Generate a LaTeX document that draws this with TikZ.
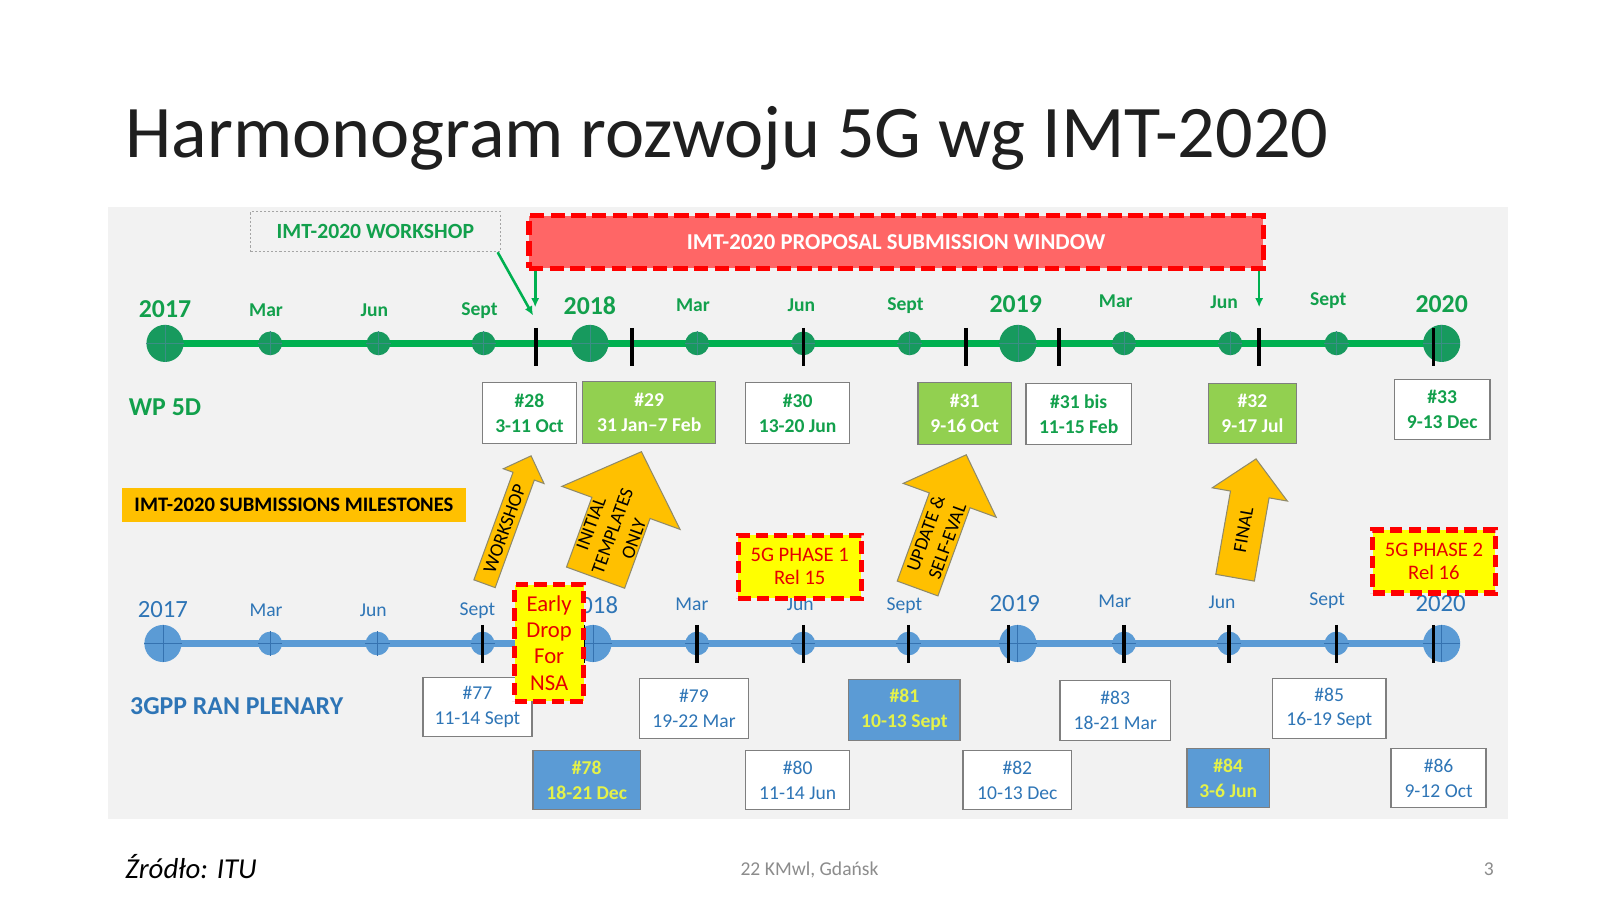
\documentclass[tikz,border=0pt]{standalone}
\usepackage{fontspec}
\setmainfont{Carlito}
\usetikzlibrary{arrows.meta}

\definecolor{titleblack}{HTML}{1F1F1F}
\definecolor{panelgrey}{HTML}{F2F2F2}
\definecolor{wpgreen}{HTML}{12A04C}
\definecolor{wpline}{HTML}{00B050}
\definecolor{wpdotfill}{HTML}{179A5E}
\definecolor{wpcross}{HTML}{3B8E86}
\definecolor{boxgreen}{HTML}{92D050}
\definecolor{rantext}{HTML}{2E75B6}
\definecolor{ranline}{HTML}{5B9BD5}
\definecolor{rancross}{HTML}{3572B0}
\definecolor{boxblue}{HTML}{5B9BD5}
\definecolor{yellowtext}{HTML}{E4F24A}
\definecolor{boxgrey}{HTML}{7F7F7F}
\definecolor{milestone}{HTML}{FFC000}
\definecolor{arrowedge}{HTML}{8F8A6A}
\definecolor{windowred}{HTML}{FF6666}
\definecolor{dashred}{HTML}{FF0000}
\definecolor{phaseyellow}{HTML}{FFFF00}
\definecolor{phasetext}{HTML}{E60000}
\definecolor{footgrey}{HTML}{8C8C8C}

\tikzset{
  wpaxis/.style={draw=wpline, line width=7pt},
  ranaxis/.style={draw=ranline, line width=6pt},
  wpdot/.style={circle, fill=wpdotfill, inner sep=0pt},
  randot/.style={circle, fill=ranline, inner sep=0pt},
  dotcross/.style={draw=wpcross, line width=0.6pt},
  randotcross/.style={draw=rancross, line width=0.8pt},
  meetingtick/.style={draw=black, line width=3.5pt},
  wpyear/.style={text=wpgreen, font=\fontsize{25}{30}\selectfont\bfseries, inner sep=0pt, text height=16pt, text depth=0pt},
  wpmonth/.style={text=wpgreen, font=\fontsize{19}{23}\selectfont\bfseries, inner sep=0pt, text height=12pt, text depth=0pt},
  ranyear/.style={text=rantext, font=\fontsize{24}{29}\selectfont, inner sep=0pt, text height=15pt, text depth=0pt},
  ranmonth/.style={text=rantext, font=\fontsize{19}{23}\selectfont, inner sep=0pt, text height=12pt, text depth=0pt},
  datebox/.style={draw=boxgrey, line width=1.4pt, fill=white, align=center, inner sep=0pt},
  wpbox/.style={datebox, text=wpgreen, font=\fontsize{19}{24}\selectfont\bfseries},
  wpmeet/.style={wpbox, fill=boxgreen, text=white},
  ranbox/.style={datebox, text=rantext, font=\fontsize{19}{24}\selectfont},
  ranmeet/.style={ranbox, fill=boxblue, text=yellowtext, font=\fontsize{19}{24}\selectfont\bfseries},
  phasebox/.style={fill=phaseyellow, draw=dashred, line width=5pt, dash pattern=on 12pt off 6pt,
    text=phasetext, align=center, inner sep=0pt, font=\fontsize{20}{22}\selectfont},
  greenarrow/.style={draw=wpline, line width=2.5pt, -{Latex[length=9pt,width=8pt]}},
  subarrowshape/.style={fill=milestone, draw=arrowedge, line width=1pt},
  subarrowtext/.style={align=center, font=\fontsize{18.5}{22}\selectfont, inner sep=0pt},
}

% block arrow: name, tip, angle, length, shaft half width, head half width, head length, text offset, text
\newcommand{\subarrow}[9]{%
  \begin{scope}[shift={#2}, rotate=#3]
    \draw[subarrowshape] (0,0) -- (-#7,-#6) -- (-#7,-#5) -- (-#4,-#5)
      -- (-#4,#5) -- (-#7,#5) -- (-#7,#6) -- cycle;
    \node[subarrowtext, rotate=#3] (#1) at (-#8,0) {#9};
  \end{scope}}

\begin{document}
\begin{tikzpicture}[x=1pt, y=-1pt]
  \fill[white] (0,0) rectangle (1569,879);
  \useasboundingbox (0,0) rectangle (1569,879);
  \fill[panelgrey] (105,201) rectangle (1462,794);

  \node[anchor=base west, text=titleblack, font=\fontsize{72}{86}\selectfont] (title) at (118,153)
    {Harmonogram rozwoju 5G wg IMT-2020};

  % WP 5D line
  \draw[wpaxis] (160,333) -- (1398,333);
  \foreach \x/\r [count=\i] in {160/18,262/11.5,367/11.5,469/11.5,572/18,676/11.5,779/11.5,
      882/11.5,987/18,1090/11.5,1193/11.5,1296/11.5,1398/18}
  {
    \node[wpdot, minimum size=2*\r] (wd\i) at (\x,333) {};
    \draw[dotcross] (wd\i.west) -- (wd\i.east) (wd\i.north) -- (wd\i.south);
  }
  \foreach \x in {520,613,779,937,1027,1221,1390}
    \draw[meetingtick] (\x,318) -- (\x,355);
  \foreach \t/\x/\y [count=\i] in {2017/160/300,2018/572/297,2019/985/295,2020/1398/295}
    \node[wpyear] (wy\i) at (\x,\y) {\t};
  \foreach \t/\x/\y [count=\i] in {Mar/258/301,Jun/363/301,Sept/465/300,Mar/672/296,Jun/777/296,
      Sept/878/295,Mar/1082/292,Jun/1187/293,Sept/1288/290}
    \node[wpmonth] (wm\i) at (\x,\y) {\t};

  \node[text=wpgreen, font=\fontsize{25}{30}\selectfont\bfseries] (wp) at (160,395) {WP 5D};

  \node[wpbox, minimum width=91, minimum height=59] (b28) at (513.5,400.5) {\#28\\3-11 Oct};
  \node[wpmeet, minimum width=129, minimum height=60] (b29) at (629.5,400) {\#29\\31 Jan--7 Feb};
  \node[wpbox, minimum width=101, minimum height=59] (b30) at (773.5,400.5) {\#30\\13-20 Jun};
  \node[wpmeet, minimum width=91, minimum height=60] (b31) at (935.5,401) {\#31\\9-16 Oct};
  \node[wpbox, minimum width=102, minimum height=59] (b31bis) at (1046,401.5) {\#31 bis\\11-15 Feb};
  \node[wpmeet, minimum width=85, minimum height=58] (b32) at (1214.5,401) {\#32\\9-17 Jul};
  \node[wpbox, minimum width=93, minimum height=58] (b33) at (1398.5,397) {\#33\\9-13 Dec};

  % workshop and submission window
  \node[draw=boxgrey!70, line width=1.2pt, dash pattern=on 2pt off 2pt, fill=panelgrey,
    minimum width=242, minimum height=39, text=wpgreen, font=\fontsize{21}{25}\selectfont\bfseries]
    (workshop) at (364,224.5) {IMT-2020 WORKSHOP};
  \node[fill=windowred, draw=dashred, line width=5pt, dash pattern=on 14pt off 6pt,
    minimum width=712, minimum height=51, text=white, font=\fontsize{22}{26}\selectfont\bfseries]
    (window) at (869,234.5) {IMT-2020 PROPOSAL SUBMISSION WINDOW};
  \coordinate (ws-end) at (517,306);
  \coordinate (win-start) at (519,298);
  \coordinate (win-end) at (1221,298);
  \draw[greenarrow] ([xshift=-3pt]workshop.south east) -- (ws-end);
  \draw[greenarrow] (window.south -| win-start) -- (win-start);
  \draw[greenarrow] (window.south -| win-end) -- (win-end);

  \node[fill=milestone, minimum width=334, minimum height=33, text=black,
    font=\fontsize{20}{24}\selectfont\bfseries] (milestones) at (285,489.5)
    {IMT-2020 SUBMISSIONS MILESTONES};

  % 3GPP line
  \draw[ranaxis] (158,624) -- (1398,624);
  \foreach \x/\r [count=\i] in {158/18,262/11.5,366/11.5,468/11.5,575/18,676/11.5,779/11.5,
      881/11.5,987/18,1090/11.5,1192/11.5,1296/11.5,1398/18}
  {
    \node[randot, minimum size=2*\r] (rd\i) at (\x,624) {};
    \draw[randotcross] (rd\i.west) -- (rd\i.east) (rd\i.north) -- (rd\i.south);
  }
  \foreach \x in {468,566,676,779,881,978,1090,1192,1296,1390}
    \draw[meetingtick] (\x,606) -- (\x,643);
  \foreach \t/\x/\y [count=\i] in {2017/158/591,2018/575/587,2019/984/585,2020/1397/585}
    \node[ranyear] (ry\i) at (\x,\y) {\t};
  \foreach \t/\x/\y [count=\i] in {Mar/258/592,Jun/362/592,Sept/463/591,Mar/671/586,Jun/776/586,
      Sept/877/586,Mar/1081/583,Jun/1185/584,Sept/1287/581}
    \node[ranmonth] (rm\i) at (\x,\y) {\t};

  \node[text=rantext, font=\fontsize{25}{30}\selectfont\bfseries] (ran) at (229.5,685) {3GPP RAN PLENARY};

  \node[ranbox, minimum width=106, minimum height=57] (b77) at (463,685.5) {\#77\\11-14 Sept};
  \node[ranmeet, minimum width=104, minimum height=57] (b78) at (569,756.5) {\#78\\18-21 Dec};
  \node[ranbox, minimum width=106, minimum height=58] (b79) at (673,687) {\#79\\19-22 Mar};
  \node[ranbox, minimum width=101, minimum height=57] (b80) at (773.5,756.5) {\#80\\11-14 Jun};
  \node[ranmeet, minimum width=108, minimum height=59] (b81) at (877,688.5) {\#81\\10-13 Sept};
  \node[ranbox, minimum width=105, minimum height=57] (b82) at (986.5,756.5) {\#82\\10-13 Dec};
  \node[ranbox, minimum width=107, minimum height=58] (b83) at (1081.5,689) {\#83\\18-21 Mar};
  \node[ranmeet, minimum width=80, minimum height=57] (b84) at (1191,754.5) {\#84\\3-6 Jun};
  \node[ranbox, minimum width=110, minimum height=58] (b85) at (1289,687) {\#85\\16-19 Sept};
  \node[ranbox, minimum width=92, minimum height=57] (b86) at (1395,754.5) {\#86\\9-12 Oct};

  % milestones
  \subarrow{wsarrow}{(515,442)}{70}{132}{11}{21}{21}{75}{WORKSHOP}
  \subarrow{itarrow}{(622,438)}{70}{130}{30}{61}{58}{82}{INITIAL\\TEMPLATES\\ONLY}
  \subarrow{uearrow}{(937,441)}{70}{138}{21}{48}{47}{85}{UPDATE \&\\SELF-EVAL}
  \subarrow{fiarrow}{(1218,445)}{80}{117}{19}{37}{35}{70}{FINAL}

  \node[phasebox, minimum width=67, minimum height=113, font=\fontsize{22}{25.5}\selectfont]
    (early) at (532.5,623.5) {Early\\Drop\\For\\NSA};
  \node[phasebox, minimum width=119, minimum height=61] (phase1) at (775.5,549.5) {5G PHASE 1\\Rel 15};
  \node[phasebox, minimum width=119, minimum height=61] (phase2) at (1390.5,544.5) {5G PHASE 2\\Rel 16};

  % footer
  \node[anchor=base west, text=black, font=\fontsize{28}{34}\selectfont\itshape] (source) at (118,852) {Źródło: ITU};
  \node[anchor=base, text=footgrey, font=\fontsize{19}{23}\selectfont] (event) at (785,849) {22 KMwl, Gdańsk};
  \node[anchor=base east, text=footgrey, font=\fontsize{19}{23}\selectfont] (page) at (1452,849) {3};
\end{tikzpicture}
\end{document}
